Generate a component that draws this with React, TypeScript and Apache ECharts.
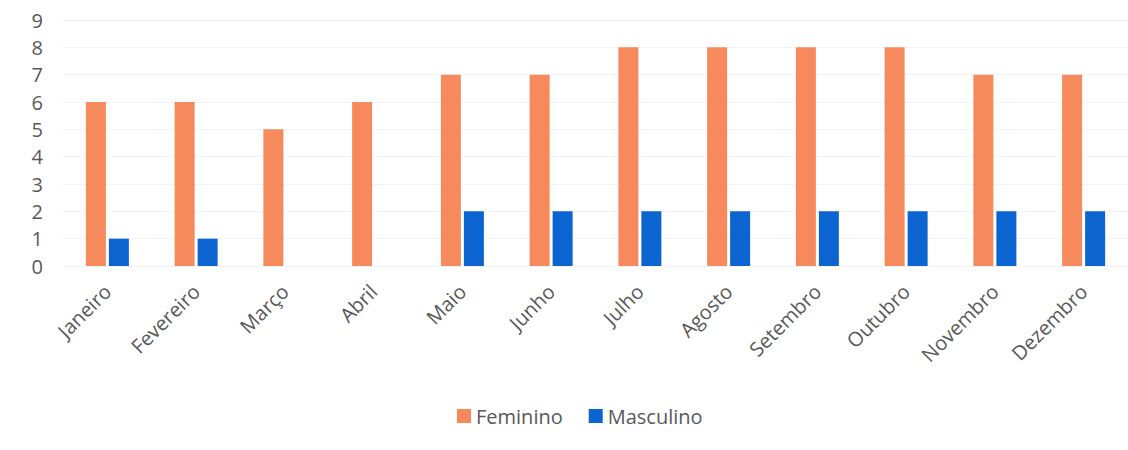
import React, { useEffect, useRef } from "react";
import * as echarts from "echarts";

const months = ["Janeiro", "Fevereiro", "Março", "Abril", "Maio", "Junho", "Julho", "Agosto", "Setembro", "Outubro", "Novembro", "Dezembro"];
const feminino = [6, 6, 5, 6, 7, 7, 8, 8, 8, 8, 7, 7];
const masculino = [1, 1, 0, 0, 2, 2, 2, 2, 2, 2, 2, 2];

export default function App() {
  const ref = useRef<HTMLDivElement>(null);
  useEffect(() => {
    if (!ref.current) return;
    const chart = echarts.init(ref.current, undefined, { renderer: "svg" });
    const font = "Open Sans";
    chart.setOption({
      animation: false,
      backgroundColor: "#ffffff",
      textStyle: { fontFamily: font },
      grid: { left: 63, right: -15, top: 20, bottom: 184, containLabel: false },
      legend: {
        top: 401,
        left: 452,
        itemWidth: 14,
        itemHeight: 14,
        itemGap: 26,
        icon: "rect",
        textStyle: { fontSize: 20, color: "#595959", fontFamily: font },
        data: ["Feminino", "Masculino"],
      },
      xAxis: {
        type: "category",
        data: months,
        axisLine: { show: false },
        axisTick: { show: false },
        axisLabel: { rotate: 45, fontSize: 20, color: "#595959", margin: 22, fontFamily: font },
      },
      yAxis: {
        type: "value",
        min: 0,
        max: 9,
        interval: 1,
        axisLine: { show: false },
        axisTick: { show: false },
        splitLine: { lineStyle: { color: "#f3f3f3" } },
        axisLabel: { fontSize: 20, color: "#595959", margin: 20, fontFamily: font },
      },
      series: [
        { name: "Feminino", type: "bar", data: feminino, barWidth: 20, barGap: "15%", itemStyle: { color: "#F78A5C" } },
        { name: "Masculino", type: "bar", data: masculino, barWidth: 20, itemStyle: { color: "#0B64D0" } },
      ],
    });
    return () => chart.dispose();
  }, []);
  return <div ref={ref} style={{ position: "fixed", left: 0, top: 0, width: 1128, height: 450 }} />;
}
